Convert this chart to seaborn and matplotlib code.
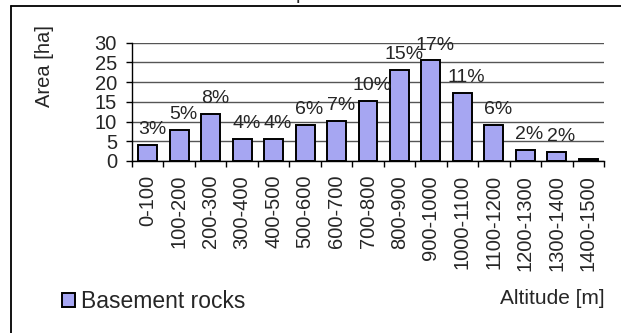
import matplotlib
matplotlib.use("Agg")
import matplotlib.pyplot as plt
from matplotlib.lines import Line2D
import seaborn as sns
import pandas as pd

# Chart data
altitudes = ["0-100", "100-200", "200-300", "300-400", "400-500", "500-600",
             "600-700", "700-800", "800-900", "900-1000", "1000-1100",
             "1100-1200", "1200-1300", "1300-1400", "1400-1500"]
area_ha = [4.1, 7.9, 11.9, 5.6, 5.6, 9.2, 10.2, 15.3, 23.1, 25.5, 17.2,
           9.2, 2.8, 2.2, 0.5]
share_labels = ["3%", "5%", "8%", "4%", "4%", "6%", "7%", "10%", "15%", "17%",
                "11%", "6%", "2%", "2%", ""]
series_name = "Basement rocks"

df = pd.DataFrame({"altitude": altitudes, "area": area_ha,
                   "series": series_name})

sns.set_style("white")
plt.rcParams["font.family"] = ["Liberation Sans", "DejaVu Sans"]

W, H = 621, 333
fig = plt.figure(figsize=(W / 100, H / 100), dpi=100)
ax = fig.add_axes([132 / W, 1 - 161 / H, (604 - 132) / W, (161 - 42.7) / H])

sns.barplot(data=df, x="altitude", y="area", hue="series",
            palette=["#9999FF"], edgecolor="black", linewidth=1.4,
            width=0.6, ax=ax, legend=True)

ax.set_ylim(0, 30)
ax.set_xlim(-0.5, len(altitudes) - 0.5)
ax.set_yticks(range(0, 31, 5))
ax.yaxis.grid(True, color="#555555", linewidth=1)
ax.set_axisbelow(True)
for side in ["top", "right"]:
    ax.spines[side].set_visible(False)
for side in ["left", "bottom"]:
    ax.spines[side].set_color("black")
    ax.spines[side].set_linewidth(1)

ax.set_xlabel("")
ax.set_ylabel("")
ax.tick_params(axis="y", left=True, length=4.3, width=1, pad=6.5,
               labelsize=14.5, color="black")
ax.set_xticks(range(len(altitudes)))
ax.set_xticklabels(altitudes, rotation=90, va="top", ha="center")
ax.set_xticks([i - 0.5 for i in range(len(altitudes) + 1)], minor=True)
ax.tick_params(axis="x", which="major", length=0, pad=10, labelsize=14.5)
ax.tick_params(axis="x", which="minor", bottom=True, length=4.3, width=1,
               color="black")

# percentage labels above bars
for i, (v, lab) in enumerate(zip(area_ha, share_labels)):
    if lab:
        ax.annotate(lab, (i, v), xytext=(3, 5), textcoords="offset points",
                    ha="center", va="bottom", fontsize=14)

# legend bottom-left
handles, labels = ax.get_legend_handles_labels()
ax.get_legend().remove()
fig.legend(handles, labels, loc="center left",
           bbox_to_anchor=(62 / W, 1 - 302 / H), frameon=False,
           fontsize=16.5, handlelength=0.55, handleheight=0.55,
           handletextpad=0.3, borderpad=0, borderaxespad=0)

fig.text(45 / W, 1 - 66 / H, "Area [ha]", rotation=90, ha="center",
         va="center", fontsize=14.5)
fig.text(605 / W, 1 - 298 / H, "Altitude [m]", ha="right", va="center",
         fontsize=15)

# cut-off title remnant and outer chart frame
fig.text(301 / W, 1 + 1 / H, "p", ha="center", va="baseline", fontsize=14)
fig.add_artist(Line2D([10.7 / W, 10.7 / W], [1 - 5.7 / H, 0], color="black",
                      linewidth=1.3, transform=fig.transFigure))
fig.add_artist(Line2D([10.7 / W, 1], [1 - 5.7 / H, 1 - 5.7 / H], color="black",
                      linewidth=1.3, transform=fig.transFigure))

fig.savefig("out.png", dpi=100)
